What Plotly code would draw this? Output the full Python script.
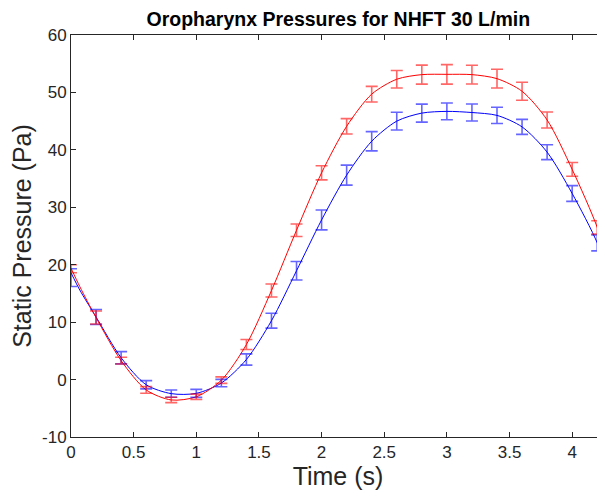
import plotly.graph_objects as go

# pontos com barras de erro (a cada 0.2 s)
t = [0, 0.2, 0.4, 0.6, 0.8, 1.0, 1.2, 1.4, 1.6, 1.8, 2.0, 2.2, 2.4, 2.6, 2.8, 3.0, 3.2, 3.4, 3.6, 3.8, 4.0, 4.2]
red_mean = [19.3, 10.8, 3.3, -1.8, -3.55, -3.0, -0.1, 6.1, 15.5, 26.0, 36.0, 44.1, 49.7, 52.3, 53.1, 53.15, 53.1, 52.4, 50.2, 45.2, 36.6, 26.5]
red_err = [0.7, 1.13, 0.58, 0.57, 0.47, 0.46, 0.57, 0.87, 1.13, 1.1, 1.22, 1.33, 1.36, 1.53, 1.65, 1.7, 1.62, 1.63, 1.57, 1.39, 1.19, 1.16]
blue_mean = [17.75, 10.9, 3.8, -0.9, -2.45, -2.4, -0.6, 3.5, 10.25, 18.95, 27.8, 35.6, 41.5, 45.0, 46.4, 46.7, 46.5, 46.0, 44.0, 39.6, 32.4, 23.8]
blue_err = [1.55, 1.3, 1.07, 0.72, 0.64, 0.7, 0.64, 0.98, 1.3, 1.6, 1.74, 1.74, 1.68, 1.54, 1.57, 1.45, 1.48, 1.42, 1.3, 1.3, 1.37, 1.39]

# curvas continuas
t_line = [0, 0.07] + t[1:] + [4.26]
red_line = [19.4, 16.2] + red_mean[1:] + [21.8]
blue_line = [18.6, 15.6] + blue_mean[1:] + [19.6]

# ticks
x_ticks = [0, 0.5, 1, 1.5, 2, 2.5, 3, 3.5, 4]
x_labels = ["0", "0.5", "1", "1.5", "2", "2.5", "3", "3.5", "4"]
y_ticks = [-10, 0, 10, 20, 30, 40, 50, 60]
y_labels = ["-10", "0", "10", "20", "30", "40", "50", "60"]

ink = "#262626"
fig = go.Figure()

fig.add_trace(go.Scatter(x=t_line, y=blue_line, mode="lines", line=dict(color="#0000ff", width=1, shape="spline", smoothing=0.8), showlegend=False))
fig.add_trace(go.Scatter(x=t_line, y=red_line, mode="lines", line=dict(color="#ff0000", width=1, shape="spline", smoothing=0.8), showlegend=False))

fig.add_trace(go.Scatter(x=t, y=blue_mean, mode="markers", marker=dict(size=1, color="rgba(0,0,0,0)"),
                         error_y=dict(type="data", array=blue_err, color="rgba(0,0,255,0.6)", thickness=1.6, width=6),
                         showlegend=False))
fig.add_trace(go.Scatter(x=t, y=red_mean, mode="markers", marker=dict(size=1, color="rgba(0,0,0,0)"),
                         error_y=dict(type="data", array=red_err, color="rgba(255,0,0,0.6)", thickness=1.6, width=6),
                         showlegend=False))

# eixo direito so com ticks (sem linha)
fig.add_trace(go.Scatter(x=[0], y=[0], yaxis="y2", mode="markers", marker=dict(size=0, opacity=0), showlegend=False, hoverinfo="skip"))

# a pagina tem margem de 8px no body, entao a figura e um pouco menor
fig.update_layout(
    width=597, height=489,
    margin=dict(l=63, r=0, t=27, b=60),
    paper_bgcolor="white", plot_bgcolor="white",
    font=dict(family="Liberation Sans, Arial", color=ink),
    title=dict(text="<b>Oropharynx Pressures for NHFT 30 L/min</b>", x=0.5533, xanchor="center", y=0.9775, yanchor="middle",
               font=dict(size=19.5, color="black")),
    xaxis=dict(range=[0, 4.262], tickvals=x_ticks, ticktext=x_labels,
               ticks="inside", ticklen=5, tickcolor=ink, showline=True, linecolor=ink, linewidth=1, mirror="ticks",
               showgrid=False, zeroline=False, tickfont=dict(size=17), automargin=False,
               title=dict(text="Time (s)", font=dict(size=25), standoff=2)),
    yaxis=dict(range=[-10, 60], tickvals=y_ticks, ticktext=y_labels, ticks="inside", ticklen=5, tickcolor=ink,
               showline=True, linecolor=ink, linewidth=1,
               showgrid=False, zeroline=False, tickfont=dict(size=17), automargin=False,
               title=dict(text="Static Pressure (Pa)", font=dict(size=25), standoff=4)),
    yaxis2=dict(range=[-10, 60], tickvals=y_ticks, overlaying="y", side="right", ticks="inside", ticklen=5, tickcolor=ink,
                showticklabels=False, showline=False, showgrid=False, zeroline=False, automargin=False),
)

fig.write_html("out.html")
